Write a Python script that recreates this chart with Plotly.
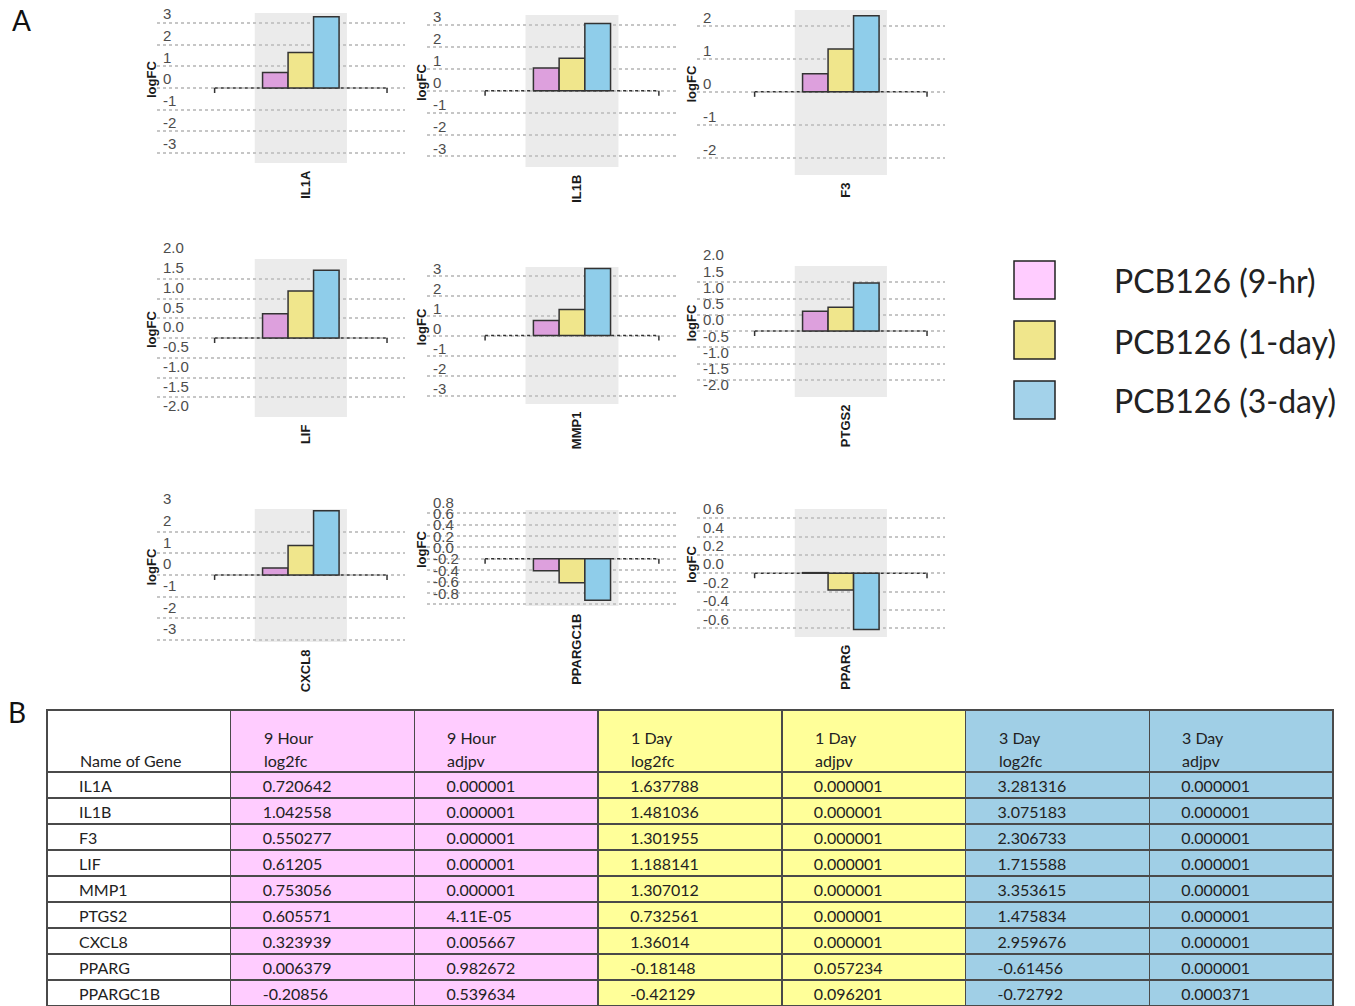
import plotly.graph_objects as go

# ---- data -------------------------------------------------------------
GENES = ["IL1A", "IL1B", "F3", "LIF", "MMP1", "PTGS2", "CXCL8", "PPARG", "PPARGC1B"]
LOG2FC_9H = ["0.720642", "1.042558", "0.550277", "0.61205", "0.753056",
             "0.605571", "0.323939", "0.006379", "-0.20856"]
ADJPV_9H = ["0.000001", "0.000001", "0.000001", "0.000001", "0.000001",
            "4.11E-05", "0.005667", "0.982672", "0.539634"]
LOG2FC_1D = ["1.637788", "1.481036", "1.301955", "1.188141", "1.307012",
             "0.732561", "1.36014", "-0.18148", "-0.42129"]
ADJPV_1D = ["0.000001", "0.000001", "0.000001", "0.000001", "0.000001",
            "0.000001", "0.000001", "0.057234", "0.096201"]
LOG2FC_3D = ["3.281316", "3.075183", "2.306733", "1.715588", "3.353615",
             "1.475834", "2.959676", "-0.61456", "-0.72792"]
ADJPV_3D = ["0.000001", "0.000001", "0.000001", "0.000001", "0.000001",
            "0.000001", "0.000001", "0.000001", "0.000371"]

SERIES = ["PCB126 (9-hr)", "PCB126 (1-day)", "PCB126 (3-day)"]
HEADER_TOP = ["", "9 Hour", "9 Hour", "1 Day", "1 Day", "3 Day", "3 Day"]
HEADER_BOTTOM = ["Name of Gene", "log2fc", "adjpv", "log2fc", "adjpv", "log2fc", "adjpv"]

PANEL_ORDER = ["IL1A", "IL1B", "F3", "LIF", "MMP1", "PTGS2", "CXCL8", "PPARGC1B", "PPARG"]

TICKS_INT3 = ["3", "2", "1", "0", "-1", "-2", "-3"]
TICKS_INT2 = ["2", "1", "0", "-1", "-2"]
TICKS_HALF2 = ["2.0", "1.5", "1.0", "0.5", "0.0", "-0.5", "-1.0", "-1.5", "-2.0"]
TICKS_P8 = ["0.8", "0.6", "0.4", "0.2", "0.0", "-0.2", "-0.4", "-0.6", "-0.8"]
TICKS_P6 = ["0.6", "0.4", "0.2", "0.0", "-0.2", "-0.4", "-0.6"]
Y_TICKS = {
    "IL1A": TICKS_INT3, "IL1B": TICKS_INT3, "F3": TICKS_INT2,
    "LIF": TICKS_HALF2, "MMP1": TICKS_INT3, "PTGS2": TICKS_HALF2,
    "CXCL8": TICKS_INT3, "PPARGC1B": TICKS_P8, "PPARG": TICKS_P6,
}

# ---- layout settings ---------------------------------------------------
W, H = 1355, 1006
# pixel box of each panel: left, right, top, bottom, y-min, y-max, label lift (px)
PANEL_BOX = {
    "IL1A":     (157, 405, 13, 163, -3.46, 3.46, 9),
    "IL1B":     (427, 677, 15, 167, -3.48, 3.46, 8),
    "F3":       (697, 945, 10, 175, -2.52, 2.48, 8),
    "LIF":      (157, 405, 259, 417, -2.0, 2.0, 11),
    "MMP1":     (427, 677, 267, 404, -3.42, 3.43, 7),
    "PTGS2":    (697, 945, 266, 397, -2.03, 2.0, 11),
    "CXCL8":    (157, 405, 509, 642, -3.09, 3.04, 11),
    "PPARGC1B": (427, 677, 510, 606, -0.83, 0.86, 11),
    "PPARG":    (697, 945, 509, 637, -0.695, 0.70, 9),
}
TABLE_LEFT, TABLE_RIGHT, TABLE_TOP = 47, 1333, 710
BAR_COLORS = ["#DDA0DD", "#F0E68C", "#8FCDEA"]
LEGEND_COLORS = ["#FFCCFF", "#F0E68C", "#A3D2EA"]
TABLE_COLORS = ["#FFFFFF", "#FFCCFF", "#FFCCFF", "#FFFF99", "#FFFF99", "#A0CFE6", "#A0CFE6"]
CHART_FONT = "Liberation Sans, Arial, sans-serif"
TEXT_FONT = "Lato, Noto Sans, sans-serif"


def px_x(x):
    return x / W


def px_y(y):
    return 1 - y / H


series_values = [LOG2FC_9H, LOG2FC_1D, LOG2FC_3D]

fig = go.Figure()
shapes = []
annotations = []
layout_axes = {}

for i, gene in enumerate(PANEL_ORDER, start=1):
    gi = GENES.index(gene)
    left, right, top, bottom, ymin, ymax, lift = PANEL_BOX[gene]
    xs = "x" if i == 1 else f"x{i}"
    ys = "y" if i == 1 else f"y{i}"
    xkey = "xaxis" if i == 1 else f"xaxis{i}"
    ykey = "yaxis" if i == 1 else f"yaxis{i}"

    for s, vals in enumerate(series_values):
        fig.add_trace(go.Bar(
            x=[gene], y=[float(vals[gi])], name=SERIES[s], xaxis=xs, yaxis=ys,
            marker=dict(color=BAR_COLORS[s], line=dict(color="#333333", width=1.5)),
            showlegend=False, offsetgroup=str(s),
        ))

    ticks = Y_TICKS[gene]
    layout_axes[xkey] = dict(
        domain=[px_x(left), px_x(right)], anchor=ys, type="category",
        range=[-1.56, 1.13], showgrid=False, zeroline=False, showline=False,
        ticks="", tickangle=-90, automargin=False, ticklabelshift=5,
        ticklabelstandoff=4,
        tickfont=dict(family=CHART_FONT, size=13, color="#1a1a1a", weight="bold"),
        fixedrange=True,
    )
    layout_axes[ykey] = dict(
        domain=[px_y(bottom), px_y(top)], anchor=xs, range=[ymin, ymax],
        tickvals=[float(t) for t in ticks], ticktext=ticks,
        ticklabelposition="inside", ticklabelshift=-lift, ticklabelstandoff=3,
        ticklabeloverflow="allow", automargin=False,
        showgrid=True, gridcolor="#c6c6c6", griddash="dot", gridwidth=1.5,
        zeroline=False, showline=False, ticks="",
        tickfont=dict(family=CHART_FONT, size=15, color="#4d4d4d"),
        fixedrange=True,
    )

    # grey band behind the gene category
    shapes.append(dict(type="rect", xref=xs, yref=f"{ys} domain",
                       x0=-0.5, x1=0.5, y0=0, y1=1,
                       fillcolor="#EBEBEB", line=dict(width=0), layer="below"))
    # dashed baseline with end ticks
    shapes.append(dict(type="line", xref=xs, yref=ys, x0=-0.935, x1=0.935, y0=0, y1=0,
                       line=dict(color="#333333", width=1.5, dash="dot"), layer="between"))
    for xe in (-0.935, 0.935):
        shapes.append(dict(type="line", xref=xs, yref=ys, x0=xe, x1=xe,
                           ysizemode="pixel", yanchor=0, y0=0, y1=-5,
                           line=dict(color="#333333", width=1.5), layer="between"))

    annotations.append(dict(text="<b>logFC</b>", textangle=-90, showarrow=False,
                            xref=f"{xs} domain", x=0, xshift=-6, xanchor="center",
                            yref=f"{ys} domain", y=0.5, yshift=8, yanchor="middle",
                            font=dict(family=CHART_FONT, size=13, color="#1a1a1a")))

# legend
for k, name in enumerate(SERIES):
    yc = 280 + 60 * k
    shapes.append(dict(type="rect", xref="paper", yref="paper",
                       x0=px_x(1014), x1=px_x(1055), y0=px_y(yc + 19), y1=px_y(yc - 19),
                       fillcolor=LEGEND_COLORS[k], line=dict(color="#222222", width=1.5)))
    annotations.append(dict(text=name, showarrow=False, xref="paper", yref="paper",
                            x=px_x(1112), y=px_y(yc + 1), xanchor="left", yanchor="middle",
                            font=dict(family=TEXT_FONT, size=32, color="#222222")))

# panel letters
annotations.append(dict(text="A", showarrow=False, xref="paper", yref="paper",
                        x=px_x(22), y=px_y(20), xanchor="center", yanchor="middle",
                        font=dict(family=TEXT_FONT, size=28, color="#111111")))
annotations.append(dict(text="B", showarrow=False, xref="paper", yref="paper",
                        x=px_x(17), y=px_y(712), xanchor="center", yanchor="middle",
                        font=dict(family=TEXT_FONT, size=28, color="#111111")))

# table
PAD = "\u2002\u2002\u2002"
columns = [GENES, LOG2FC_9H, ADJPV_9H, LOG2FC_1D, ADJPV_1D, LOG2FC_3D, ADJPV_3D]
fig.add_trace(go.Table(
    domain=dict(x=[px_x(TABLE_LEFT), px_x(TABLE_RIGHT)], y=[0, px_y(TABLE_TOP)]),
    columnwidth=[1] * 7,
    header=dict(values=[""] * 7, height=62,
                fill=dict(color=TABLE_COLORS),
                line=dict(color="#4a4a4a", width=1.5)),
    cells=dict(values=[[PAD + v for v in col] for col in columns],
               align="left", height=26,
               fill=dict(color=TABLE_COLORS),
               line=dict(color="#4a4a4a", width=1.5),
               font=dict(family=TEXT_FONT, size=16, color="#222222")),
))

# two-line column headings, bottom-aligned within the header row
col_w = (TABLE_RIGHT - TABLE_LEFT) / 7
for c in range(7):
    xl = TABLE_LEFT + c * col_w + 31
    for text, yc in ((HEADER_TOP[c], 737), (HEADER_BOTTOM[c], 760)):
        if text:
            annotations.append(dict(text=text, showarrow=False, xref="paper", yref="paper",
                                    x=px_x(xl), y=px_y(yc), xanchor="left", yanchor="middle",
                                    font=dict(family=TEXT_FONT, size=16, color="#222222")))

fig.update_layout(
    width=W, height=H, margin=dict(l=0, r=0, t=0, b=0, autoexpand=False),
    paper_bgcolor="white", plot_bgcolor="rgba(0,0,0,0)",
    barmode="group", bargap=0.17, bargroupgap=0,
    showlegend=False, shapes=shapes, annotations=annotations,
    **layout_axes,
)

fig.write_html("out.html")
